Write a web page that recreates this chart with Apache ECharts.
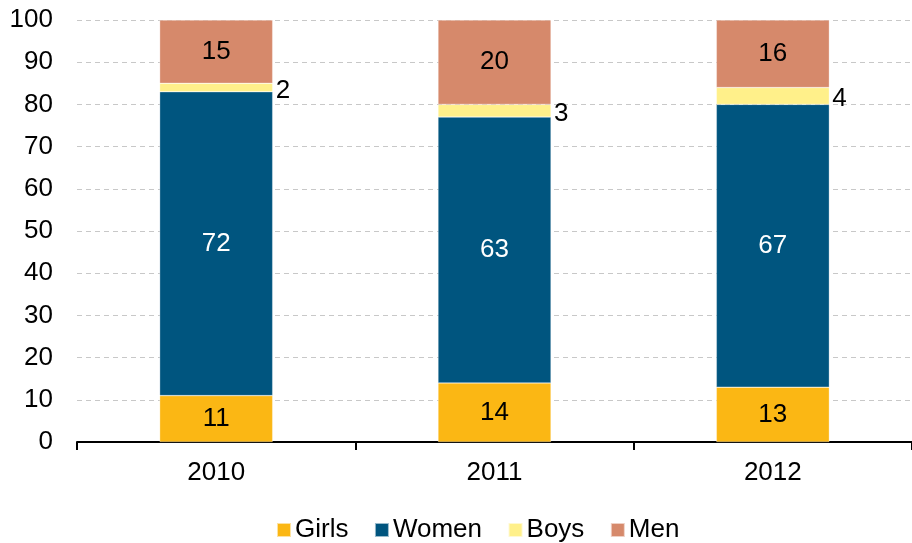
<!DOCTYPE html>
<html>
<head>
<meta charset="utf-8">
<script src="https://cdn.jsdelivr.net/npm/echarts@6/dist/echarts.min.js"></script>
<style>
  html, body { margin: 0; padding: 0; background: #fff; }
  #chart { width: 912px; height: 543px; }
</style>
</head>
<body>
<div id="chart"></div>
<script>
const years = ["2010", "2011", "2012"];
const girls = [11, 14, 13];
const women = [72, 63, 67];
const boys = [2, 3, 4];
const men = [15, 20, 16];

const font = "Liberation Sans, Arial, sans-serif";
const fs = 26;

const bar = (name, data, color, labelColor, pos) => ({
  name,
  type: "bar",
  stack: "total",
  data,
  barWidth: 113,
  itemStyle: { color, borderColor: "rgba(255,255,255,0.6)", borderWidth: 0.5 },
  label: {
    show: true,
    position: pos || "inside",
    offset: pos ? [0, 3] : [0, 0],
    color: labelColor,
    fontFamily: font,
    fontSize: fs,
    distance: 3,
  },
});

const chart = echarts.init(document.getElementById("chart"));
chart.setOption({
  animation: false,
  textStyle: { fontFamily: font },
  grid: { left: 77, right: 0, top: 20, bottom: 101 },
  legend: {
    left: 276,
    bottom: 0,
    padding: 0,
    itemWidth: 14,
    itemHeight: 14,
    itemGap: 25.5,
    icon: "rect",
    textStyle: { fontFamily: font, fontSize: fs, color: "#000", padding: [0, 0, 0, -1] },
  },
  xAxis: {
    type: "category",
    data: years,
    axisLine: { lineStyle: { color: "#000", width: 2 } },
    axisTick: { show: true, length: 8, lineStyle: { color: "#000", width: 2 } },
    axisLabel: { color: "#000", fontSize: fs, fontFamily: font, margin: 18 },
  },
  yAxis: {
    type: "value",
    min: 0,
    max: 100,
    interval: 10,
    axisLine: { show: false },
    axisTick: { show: false },
    axisLabel: { color: "#000", fontSize: fs, fontFamily: font, margin: 24 },
    splitLine: { lineStyle: { color: "#c8c8c8", type: [5, 4], width: 1 } },
  },
  series: [
    bar("Girls", girls, "#FBB714", "#000"),
    bar("Women", women, "#00557F", "#fff"),
    bar("Boys", boys, "#FFF08A", "#000", "right"),
    bar("Men", men, "#D6896B", "#000"),
  ],
});
</script>
</body>
</html>
